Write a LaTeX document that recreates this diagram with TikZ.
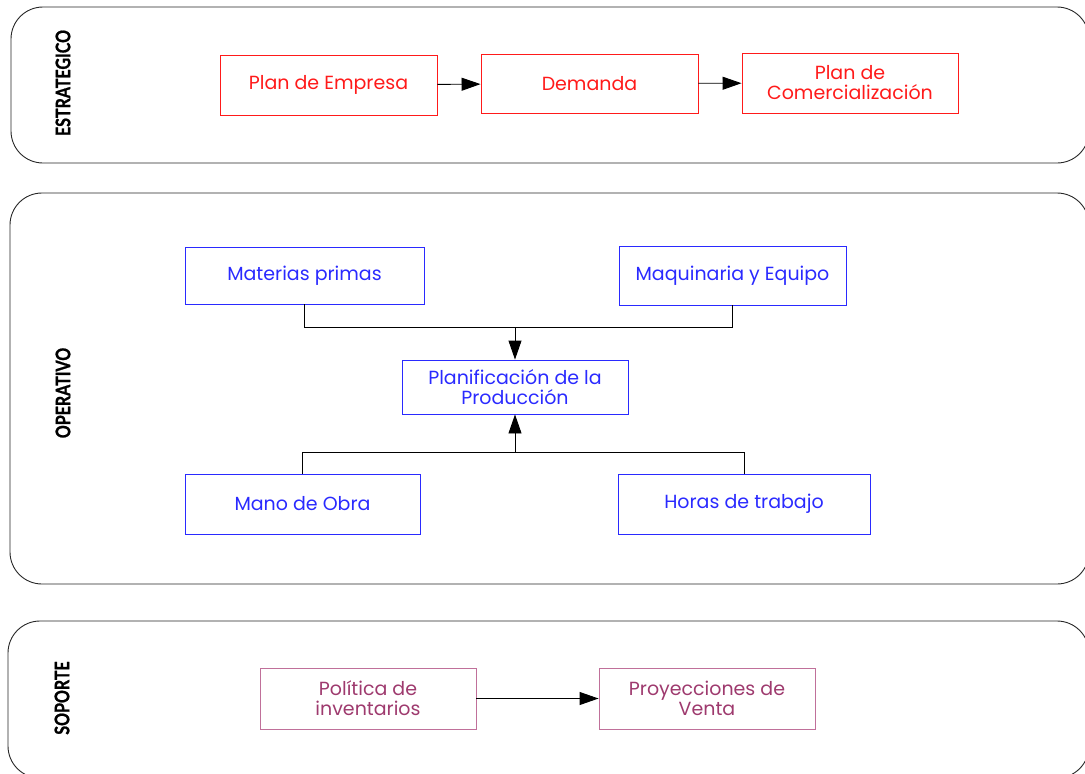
\documentclass[tikz,border=0pt]{standalone}
\usepackage{fontspec}
\setmainfont{Poppins}
\newfontfamily\labelfont[BoldFeatures={FakeBold=1.2}]{Lato}
\usetikzlibrary{arrows.meta}
\definecolor{stratred}{HTML}{FF1A1A}
\definecolor{opblue}{HTML}{2A2AFF}
\definecolor{supline}{HTML}{C0709A}
\definecolor{suptext}{HTML}{9E3A6E}
\begin{document}
\begin{tikzpicture}[x=1pt,y=-1pt,
  lane/.style={draw=black!85,line width=0.9pt,rounded corners=32pt},
  lanelabel/.style={rotate=90,font=\labelfont\bfseries\fontsize{20}{20}\selectfont,inner sep=0pt},
  box/.style={draw,line width=0.9pt,minimum width=#1,inner sep=0pt,align=center,
    font=\fontsize{19}{20}\selectfont},
  redbox/.style={box=#1,draw=stratred,text=stratred,minimum height=60pt},
  bluebox/.style={box=#1,draw=opblue,text=opblue},
  purplebox/.style={box=#1,draw=supline,text=suptext,minimum height=61pt},
  link/.style={draw=black,line width=0.9pt},
  arrow/.style={link,-{Triangle[length=19pt,width=13pt]}}]
\useasboundingbox (0,0) rectangle (1085,774);
\clip (0,0) rectangle (1085,774);

% swim lanes
\draw[lane] (11,7) rectangle (1089,163);
\draw[lane] (10,193) rectangle (1089,584);
\draw[lane] (8,621) rectangle (1089,778);

\node[lanelabel] (l1) at (63,83) {\scalebox{0.8}[1]{ESTRATEGICO}};
\node[lanelabel] (l2) at (63,393) {\scalebox{0.8}[1]{OPERATIVO}};
\node[lanelabel] (l3) at (62,698) {\scalebox{0.8}[1]{SOPORTE}};

% strategic level
\node[redbox=217pt] (pe) at (328.5,85) {Plan de Empresa};
\node[redbox=217pt,minimum height=59pt] (de) at (589.5,83.5) {Demanda};
\node[redbox=216pt] (pc) at (850,83) {Plan de\\Comercialización};
\draw[arrow] (pe) -- (de);
\draw[arrow] (de) -- (pc);

% operational level
\node[bluebox=239pt,minimum height=57pt] (mp) at (304.5,275.5) {Materias primas};
\node[bluebox=227pt,minimum height=59pt] (mq) at (732.5,275.5) {Maquinaria y Equipo};
\node[bluebox=226pt,minimum height=54pt] (pp) at (515,387) {Planificación de la\\Producción};
\node[bluebox=235pt,minimum height=60pt] (mo) at (302.5,504) {Mano de Obra};
\node[bluebox=252pt,minimum height=60pt] (ht) at (744,504) {\raisebox{-2pt}{Horas de trabajo}};

\coordinate (jt) at (515,327);
\coordinate (jb) at (515,452);
\draw[link] (mp.south) |- (jt);
\draw[link] (mq.south) |- (jt);
\draw[arrow] (jt) -- (pp.north);
\draw[link] (mo.north) |- (jb);
\draw[link] (ht.north) |- (jb);
\draw[arrow] (jb) -- (pp.south);

% support level
\node[purplebox=216pt] (pi) at (368,698.5) {Política de\\inventarios};
\node[purplebox=216pt] (pv) at (707,698.5) {Proyecciones de\\Venta};
\draw[arrow] (pi) -- (pv);
\end{tikzpicture}
\end{document}
